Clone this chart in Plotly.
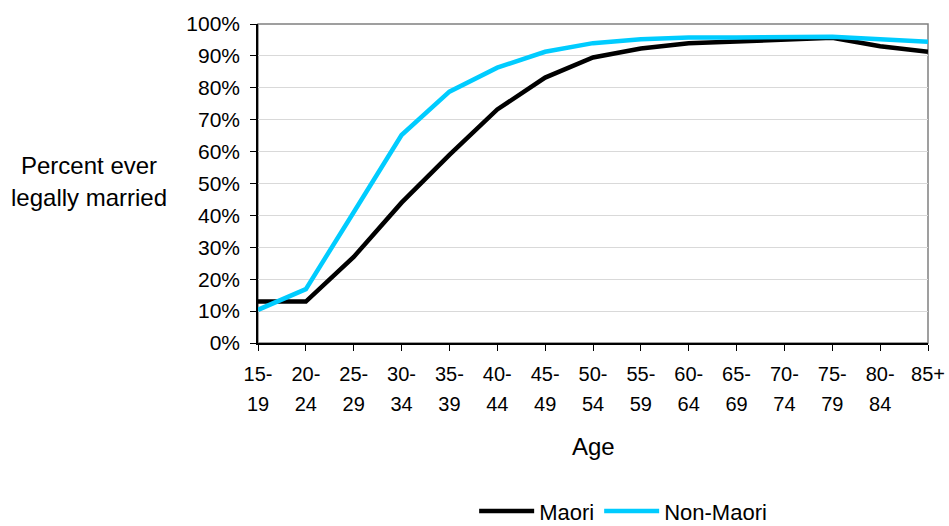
import plotly.graph_objects as go

# ---- data ----
age_line1 = ["15-", "20-", "25-", "30-", "35-", "40-", "45-", "50-", "55-", "60-", "65-", "70-", "75-", "80-", "85+"]
age_line2 = ["19", "24", "29", "34", "39", "44", "49", "54", "59", "64", "69", "74", "79", "84", ""]
maori = [13.0, 13.0, 27.0, 44.0, 59.0, 73.2, 83.2, 89.5, 92.3, 94.0, 94.5, 95.0, 95.7, 93.0, 91.3]
non_maori = [10.4, 16.9, 41.0, 65.2, 78.8, 86.3, 91.3, 94.0, 95.2, 95.8, 95.8, 95.8, 96.0, 95.2, 94.4]
y_ticks = [0, 10, 20, 30, 40, 50, 60, 70, 80, 90, 100]
y_tick_text = [f"{v}%" for v in y_ticks]

idx = list(range(len(age_line1)))
FONT = "Arial, Liberation Sans, sans-serif"

fig = go.Figure()
fig.add_trace(go.Scatter(x=idx, y=maori, mode="lines", name="Maori",
                         line=dict(color="#000000", width=4.5)))
fig.add_trace(go.Scatter(x=idx, y=non_maori, mode="lines", name="Non-Maori", xaxis="x2",
                         line=dict(color="#00CCFF", width=4.5)))

fig.update_layout(
    width=949, height=526,
    margin=dict(l=258, r=21, t=24, b=183, autoexpand=False),
    paper_bgcolor="white", plot_bgcolor="white",
    font=dict(family=FONT, size=21, color="#000000"),
    showlegend=True,
    legend=dict(orientation="h", x=0.545, xanchor="center", y=-0.527, yanchor="middle",
                font=dict(size=22), itemwidth=55, tracegroupgap=0),
    xaxis=dict(range=[0, len(idx) - 1], tickmode="array", tickvals=idx, ticktext=age_line1,
               showgrid=False, zeroline=False, showline=True, linecolor="#000000", linewidth=2,
               ticks="outside", ticklen=6, tickcolor="#000000", tickwidth=1,
               ticklabelstandoff=6, tickfont=dict(size=20), automargin=False),
    xaxis2=dict(range=[0, len(idx) - 1], tickmode="array", tickvals=idx, ticktext=age_line2,
                overlaying="x", anchor="y", side="bottom", showgrid=False, zeroline=False,
                showline=False, ticks="", ticklabelstandoff=47, tickfont=dict(size=20),
                automargin=False),
    yaxis=dict(range=[0, 100], tickmode="array", tickvals=y_ticks, ticktext=y_tick_text,
               showgrid=True, gridcolor="#D9D9D9", gridwidth=1, zeroline=False,
               showline=True, linecolor="#000000", linewidth=1.5,
               ticks="outside", ticklen=6, tickcolor="#000000",
               ticklabelstandoff=6, tickfont=dict(size=21), automargin=False),
    shapes=[dict(type="rect", xref="paper", yref="paper", x0=0, x1=1, y0=0, y1=1,
                 line=dict(color="#808080", width=1.5), layer="below")],
    annotations=[
        dict(text="Age", xref="paper", yref="paper", x=0.5, y=-0.326, xanchor="center",
             yanchor="middle", showarrow=False, font=dict(size=24)),
        dict(text="Percent ever", xref="paper", yref="paper", x=-0.252, y=0.557,
             xanchor="center", yanchor="middle", showarrow=False, font=dict(size=24)),
        dict(text="legally married", xref="paper", yref="paper", x=-0.252, y=0.455,
             xanchor="center", yanchor="middle", showarrow=False, font=dict(size=24)),
    ],
)

fig.write_html("out.html", config={"displayModeBar": False},
               post_script="document.body.style.margin='0';document.body.style.overflow='hidden';")
